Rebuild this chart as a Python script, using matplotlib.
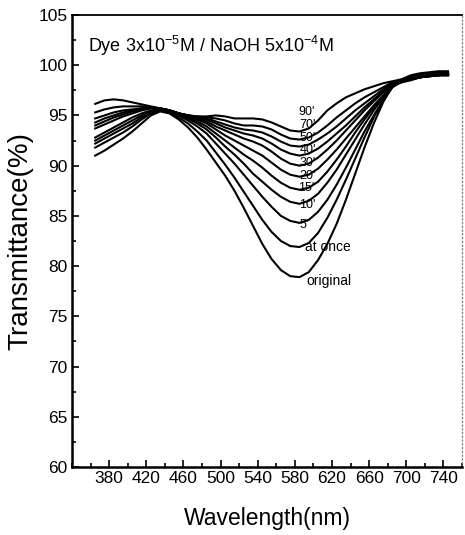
import matplotlib
matplotlib.use('Agg')
import matplotlib.pyplot as plt
from matplotlib.ticker import MultipleLocator

plt.rcParams['font.family'] = ['Liberation Sans', 'DejaVu Sans']
plt.rcParams['mathtext.fontset'] = 'custom'
plt.rcParams['mathtext.rm'] = 'Liberation Sans'
plt.rcParams['mathtext.default'] = 'regular'

wavelength = list(range(365, 746, 10))

curve_labels = ["original", "at once", "5'", "10'", "15'", "20'", "30'", "40'", "50'", "70'", "90'"]

original = [91.0, 91.5, 92.1, 92.7, 93.4, 94.2, 95.0, 95.4, 95.2, 94.6, 93.8, 92.8, 91.6, 90.3, 89.0,
            87.5, 85.8, 84.0, 82.2, 80.7, 79.6, 79.0, 78.9, 79.4, 80.6, 82.2, 84.2, 86.6, 89.2, 91.8,
            94.2, 96.3, 97.9, 98.6, 99.0, 99.2, 99.3, 99.4, 99.4]
at_once = [91.8, 92.3, 92.8, 93.3, 93.9, 94.6, 95.2, 95.5, 95.3, 94.8, 94.2, 93.4, 92.5, 91.3, 90.1,
           88.8, 87.4, 86.0, 84.6, 83.4, 82.5, 82.0, 81.9, 82.3, 83.3, 84.8, 86.6, 88.6, 90.7, 92.8,
           94.8, 96.5, 97.8, 98.5, 98.9, 99.1, 99.2, 99.3, 99.3]
min_5 = [92.2, 92.7, 93.2, 93.7, 94.2, 94.8, 95.3, 95.6, 95.4, 95.0, 94.5, 93.9, 93.2, 92.2, 91.2,
         90.2, 89.1, 88.0, 86.9, 85.9, 85.0, 84.5, 84.3, 84.6, 85.4, 86.6, 88.1, 89.8, 91.6, 93.4,
         95.0, 96.5, 97.8, 98.4, 98.7, 98.9, 99.0, 99.1, 99.2]
min_10 = [92.5, 93.0, 93.5, 94.0, 94.5, 95.0, 95.4, 95.6, 95.4, 95.1, 94.7, 94.2, 93.6, 92.8, 91.9,
          91.1, 90.2, 89.2, 88.4, 87.6, 86.9, 86.4, 86.2, 86.5, 87.2, 88.3, 89.6, 91.1, 92.6, 94.1,
          95.5, 96.8, 97.9, 98.4, 98.6, 98.8, 99.0, 99.1, 99.1]
min_15 = [92.8, 93.3, 93.8, 94.3, 94.8, 95.2, 95.5, 95.6, 95.5, 95.2, 94.8, 94.4, 93.9, 93.2, 92.5,
          91.8, 91.1, 90.5, 89.8, 89.0, 88.3, 87.8, 87.6, 87.8, 88.4, 89.4, 90.6, 91.9, 93.3, 94.6,
          95.8, 96.9, 97.9, 98.3, 98.6, 98.8, 99.0, 99.1, 99.1]
min_20 = [93.7, 94.1, 94.5, 94.9, 95.2, 95.5, 95.7, 95.7, 95.5, 95.2, 94.9, 94.6, 94.2, 93.6, 93.0,
          92.5, 92.0, 91.5, 91.0, 90.3, 89.6, 89.1, 88.9, 89.1, 89.7, 90.6, 91.6, 92.7, 93.8, 94.9,
          96.0, 97.0, 98.0, 98.3, 98.5, 98.8, 98.9, 99.0, 99.1]
min_30 = [94.0, 94.4, 94.8, 95.1, 95.4, 95.6, 95.8, 95.7, 95.5, 95.2, 95.0, 94.7, 94.4, 93.9, 93.5,
          93.1, 92.7, 92.4, 92.0, 91.4, 90.7, 90.2, 90.0, 90.2, 90.8, 91.6, 92.5, 93.5, 94.5, 95.5,
          96.4, 97.3, 98.1, 98.4, 98.6, 98.8, 98.9, 99.0, 99.0]
min_40 = [94.3, 94.7, 95.0, 95.3, 95.5, 95.7, 95.8, 95.7, 95.5, 95.2, 95.0, 94.8, 94.6, 94.2, 93.8,
          93.5, 93.2, 93.0, 92.7, 92.2, 91.6, 91.2, 91.0, 91.2, 91.7, 92.4, 93.2, 94.0, 94.9, 95.8,
          96.6, 97.4, 98.1, 98.4, 98.6, 98.8, 98.9, 99.0, 99.0]
min_50 = [94.7, 95.0, 95.3, 95.5, 95.6, 95.7, 95.8, 95.7, 95.5, 95.2, 95.0, 94.8, 94.7, 94.4, 94.1,
          93.8, 93.6, 93.5, 93.3, 92.9, 92.4, 92.0, 91.9, 92.1, 92.6, 93.2, 93.9, 94.7, 95.5, 96.2,
          96.9, 97.6, 98.2, 98.5, 98.6, 98.8, 98.9, 99.0, 99.0]
min_70 = [95.3, 95.6, 95.8, 95.9, 95.9, 95.9, 95.8, 95.7, 95.5, 95.2, 95.0, 94.9, 94.8, 94.7, 94.5,
          94.2, 94.0, 94.0, 93.9, 93.6, 93.1, 92.7, 92.6, 92.8, 93.3, 94.0, 94.8, 95.5, 96.2, 96.8,
          97.3, 97.8, 98.3, 98.5, 98.7, 98.9, 99.0, 99.0, 99.1]
min_90 = [96.15, 96.5, 96.6, 96.5, 96.3, 96.1, 95.9, 95.7, 95.5, 95.2, 95.0, 94.9, 94.9, 95.0, 94.9,
          94.7, 94.7, 94.7, 94.6, 94.3, 93.9, 93.5, 93.4, 93.7, 94.5, 95.5, 96.2, 96.8, 97.2, 97.6,
          97.9, 98.2, 98.4, 98.6, 98.8, 98.9, 99.0, 99.1, 99.1]

series = [original, at_once, min_5, min_10, min_15, min_20, min_30, min_40, min_50, min_70, min_90]

# label anchor positions (left edge, vertical centre) in data units
label_x = [592, 591, 585, 585, 584, 585, 585, 585, 585, 585, 584]
label_y = [78.5, 81.9, 84.1, 86.1, 87.75, 89.0, 90.25, 91.55, 92.8, 94.0, 95.3]
label_size = [10, 10, 9, 9, 9, 9, 9, 9, 9, 9, 9]

xticks = list(range(380, 741, 40))
yticks = list(range(60, 106, 5))

fig = plt.figure(figsize=(4.65, 5.35), dpi=100)
ax = fig.add_axes([0.1548, 0.1271, 0.8387, 0.8449])

for vals in series:
    ax.plot(wavelength, vals, color='black', lw=1.5, solid_joinstyle='round')

for lab, lx, ly, fs in zip(curve_labels, label_x, label_y, label_size):
    ax.text(lx, ly, lab, fontsize=fs, ha='left', va='center', color='black')

ax.text(357, 101.95, r"Dye 3x10$^{-5}$M / NaOH 5x10$^{-4}$M", fontsize=13,
        ha='left', va='center', color='black')

ax.set_xlim(340, 760)
ax.set_ylim(60, 105)
ax.set_xticks(xticks)
ax.set_yticks(yticks)
ax.xaxis.set_minor_locator(MultipleLocator(20))
ax.yaxis.set_minor_locator(MultipleLocator(2.5))
ax.tick_params(which='both', direction='in', width=1.2, pad=3, labelsize=12.5,
               top=False, right=False)
ax.tick_params(which='major', length=5)
ax.tick_params(which='minor', length=3)

ax.spines['left'].set_linewidth(1.8)
ax.spines['bottom'].set_linewidth(1.8)
ax.spines['top'].set_linewidth(1.3)
ax.spines['right'].set_linewidth(0.9)
ax.spines['right'].set_linestyle((0, (1, 2)))
ax.spines['right'].set_color('0.5')

ax.set_xlabel('Wavelength(nm)', fontsize=16.5, labelpad=15)
ax.set_ylabel('Transmittance(%)', fontsize=20, labelpad=4)

fig.savefig('out.png', dpi=100)
